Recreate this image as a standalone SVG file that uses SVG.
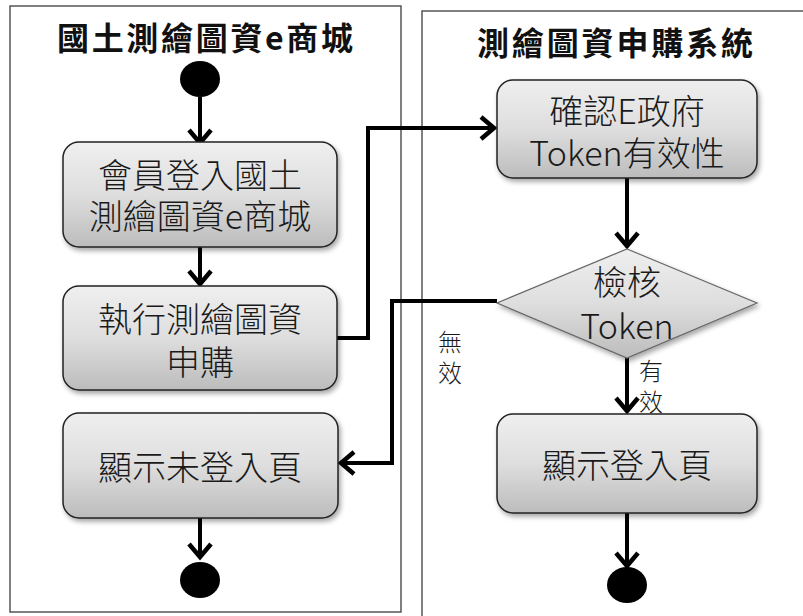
<svg xmlns="http://www.w3.org/2000/svg" width="803" height="616" viewBox="0 0 803 616">
<style>
.lane{fill:#fff;stroke:#555;stroke-width:1.5}
.title{font-family:"Noto Sans CJK TC","Noto Sans",sans-serif;font-weight:bold;font-size:32px;fill:#111;text-anchor:middle}
.box{fill:url(#g);stroke:#222;stroke-width:1.5;filter:url(#sh)}
.dia{fill:url(#g);stroke:#666;stroke-width:1.2;filter:url(#sh)}
.t{font-family:"Noto Sans CJK TC","Noto Sans",sans-serif;font-weight:300;font-size:34px;fill:#1a1a1a;text-anchor:middle}
.lbl{font-family:"Noto Sans CJK TC","Noto Sans",sans-serif;font-weight:300;font-size:24px;fill:#1a1a1a;text-anchor:middle}
.c{fill:none;stroke:#000;stroke-width:4;marker-end:url(#a)}
.dot{fill:#000}
</style>
<defs>
<linearGradient id="g" x1="0" y1="0" x2="0" y2="1">
<stop offset="0" stop-color="#efefef"/>
<stop offset="0.5" stop-color="#dedede"/>
<stop offset="1" stop-color="#bcbcbc"/>
</linearGradient>
<filter id="sh" x="-10%" y="-10%" width="125%" height="130%">
<feDropShadow dx="2" dy="3" stdDeviation="2.5" flood-color="#000" flood-opacity="0.35"/>
</filter>
<marker id="a" markerUnits="userSpaceOnUse" markerWidth="40" markerHeight="40" viewBox="-20 -20 40 40" refX="0" refY="0" orient="auto" overflow="visible">
<path d="M-13,-11 L0,0 L-13,11" fill="none" stroke="#000" stroke-width="4.5" stroke-linejoin="miter"/>
</marker>
</defs>
<g id="lane-left">
<rect class="lane" x="10" y="6" width="391" height="606"/>
<text class="title" x="205" y="50" textLength="296" lengthAdjust="spacing">國土測繪圖資e商城</text>
</g>
<g id="lane-right">
<rect class="lane" x="422" y="11" width="400" height="620"/>
<text class="title" x="615" y="55" textLength="276" lengthAdjust="spacing">測繪圖資申購系統</text>
</g>
<g id="connectors">
<path class="c" d="M200,97 L200,143"/>
<path class="c" d="M200,247 L200,284"/>
<path class="c" d="M337,338 L368,338 L368,128 L494,128"/>
<path class="c" d="M627,178 L627,246"/>
<path class="c" d="M497,301 L392,301 L392,463 L341,463"/>
<path class="c" d="M627,358 L627,411"/>
<path class="c" d="M200,518 L200,557"/>
<path class="c" d="M627,513 L627,566"/>
</g>
<g id="start">
<ellipse class="dot" cx="200" cy="79" rx="20" ry="18"/>
</g>
<g id="n1">
<rect class="box" x="63" y="142" width="274" height="105" rx="16"/>
<text class="t" x="200" y="188">會員登入國土</text>
<text class="t" x="200" y="229">測繪圖資e商城</text>
</g>
<g id="n2">
<rect class="box" x="63" y="286" width="274" height="104" rx="16"/>
<text class="t" x="200" y="332">執行測繪圖資</text>
<text class="t" x="200" y="375">申購</text>
</g>
<g id="n3">
<rect class="box" x="497" y="80" width="260" height="98" rx="16"/>
<text class="t" x="627" y="124">確認E政府</text>
<text class="t" x="627" y="166">Token有效性</text>
</g>
<g id="decision">
<polygon class="dia" points="627,249 757,303 627,358 497,303"/>
<text class="t" x="627" y="295">檢核</text>
<text class="t" x="627" y="339">Token</text>
</g>
<g id="n4">
<rect class="box" x="63" y="413" width="275" height="105" rx="16"/>
<text class="t" x="200" y="480">顯示未登入頁</text>
</g>
<g id="n5">
<rect class="box" x="497" y="414" width="260" height="99" rx="16"/>
<text class="t" x="627" y="478">顯示登入頁</text>
</g>
<g id="label-invalid">
<text class="lbl" x="450" y="351">無</text>
<text class="lbl" x="450" y="382">效</text>
</g>
<g id="label-valid">
<text class="lbl" x="651" y="380">有</text>
<text class="lbl" x="651" y="411">效</text>
</g>
<g id="end-left">
<ellipse class="dot" cx="200" cy="580" rx="20" ry="18"/>
</g>
<g id="end-right">
<ellipse class="dot" cx="627" cy="585" rx="20" ry="18"/>
</g>
</svg>
